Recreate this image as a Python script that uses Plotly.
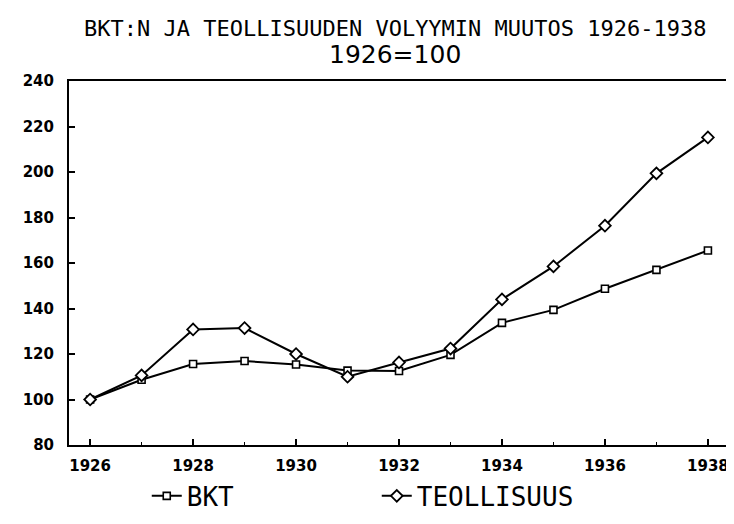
import plotly.graph_objects as go

years = [1926, 1927, 1928, 1929, 1930, 1931, 1932, 1933, 1934, 1935, 1936, 1937, 1938]
bkt = [100, 108.7, 115.6, 116.9, 115.4, 112.7, 112.5, 119.6, 133.7, 139.4, 148.7, 157.0, 165.5]
teollisuus = [100, 110.6, 130.8, 131.4, 120.0, 110.0, 116.3, 122.4, 144.0, 158.5, 176.4, 199.4, 215.2]
x_tick_vals = [1926, 1928, 1930, 1932, 1934, 1936, 1938]
x_tick_text = ["1926", "1928", "1930", "1932", "1934", "1936", "1938"]
y_tick_vals = [80, 100, 120, 140, 160, 180, 200, 220, 240]

title_line1 = "BKT:N JA TEOLLISUUDEN VOLYYMIN MUUTOS 1926-1938"
title_line2 = "1926=100"

fig = go.Figure()
fig.add_trace(go.Scatter(
    x=years, y=bkt, name="BKT", mode="lines+markers",
    line=dict(color="black", width=2),
    marker=dict(symbol="square", size=7, color="white", line=dict(color="black", width=1.6)),
))
fig.add_trace(go.Scatter(
    x=years, y=teollisuus, name="TEOLLISUUS", mode="lines+markers",
    line=dict(color="black", width=2),
    marker=dict(symbol="diamond", size=9, color="white", line=dict(color="black", width=1.8)),
))

fig.update_layout(
    width=734, height=524,
    margin=dict(l=61, r=14, t=73, b=66),
    paper_bgcolor="white", plot_bgcolor="white",
    font=dict(family="DejaVu Sans", color="black"),
    showlegend=True,
    legend=dict(orientation="h", x=0.118, y=-0.14, xanchor="left", yanchor="middle",
                font=dict(family="DejaVu Sans Mono", size=26, color="black"),
                entrywidth=185, bgcolor="rgba(0,0,0,0)", traceorder="normal"),
    annotations=[
        dict(text=title_line1, xref="paper", yref="paper", x=0.496, y=1.143,
             xanchor="center", yanchor="middle", showarrow=False,
             font=dict(family="DejaVu Sans Mono", size=22, color="black")),
        dict(text=title_line2, xref="paper", yref="paper", x=0.494, y=1.073,
             xanchor="center", yanchor="middle", showarrow=False,
             font=dict(family="DejaVu Sans", size=25, color="black")),
    ],
)

fig.update_xaxes(
    range=[1925.59, 1938.39], tickvals=x_tick_vals, ticktext=x_tick_text,
    ticks="inside", ticklen=6, tickwidth=1.5, tickcolor="black",
    minor=dict(dtick=1, tick0=1926, ticks="inside", ticklen=3, tickwidth=1.2, tickcolor="black"),
    showgrid=False, zeroline=False, ticklabelstandoff=6,
    showline=True, linecolor="black", linewidth=2, mirror=True,
    tickfont=dict(family="DejaVu Sans", size=15, color="black", weight="bold"),
)
fig.update_yaxes(
    range=[80, 240], tickvals=y_tick_vals,
    ticks="inside", ticklen=6, tickwidth=1.5, tickcolor="black",
    showgrid=False, zeroline=False, ticklabelstandoff=10,
    showline=True, linecolor="black", linewidth=2, mirror=True,
    tickfont=dict(family="DejaVu Sans", size=15, color="black", weight="bold"),
)

fig.write_html("out.html")
